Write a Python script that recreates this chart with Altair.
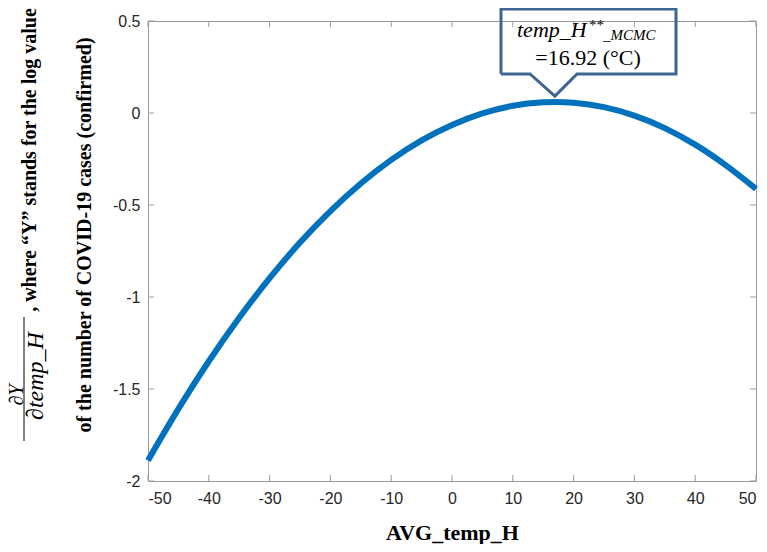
import altair as alt
import pandas as pd

# Curve values
avg_temp = [-50, -45, -40, -35, -30, -25, -20, -15, -10, -5, 0, 5, 10, 15, 16.92, 20, 25, 30, 35, 40, 45, 50]
dydt = [-1.888, -1.608, -1.349, -1.113, -0.898, -0.704, -0.533, -0.383, -0.255, -0.149, -0.065,
        -0.002, 0.039, 0.058, 0.060, 0.056, 0.032, -0.014, -0.082, -0.172, -0.283, -0.412]

x_ticks = [-50, -40, -30, -20, -10, 0, 10, 20, 30, 40, 50]
y_ticks = [-2, -1.5, -1, -0.5, 0, 0.5]

# Callout outline (data units), traced in order
call_x = [8.06, 8.06, 36.84, 36.84, 20.56, 16.92, 12.83, 8.06]
call_y = [0.212, 0.565, 0.565, 0.212, 0.212, 0.092, 0.212, 0.212]

W, H = 608, 460
FRAME = "#9a9a9a"
BLUE = "#0072BD"
BOX = "#3F6591"

xs = alt.Scale(domain=[-50, 50], nice=False, zero=False)
ys = alt.Scale(domain=[-2, 0.5], nice=False, zero=False)

curve_df = pd.DataFrame({"x": avg_temp, "y": dydt})
xt_df = pd.DataFrame({"x": x_ticks})
yt_df = pd.DataFrame({"y": y_ticks})
call_df = pd.DataFrame({"x": call_x, "y": call_y, "o": list(range(len(call_x)))})

curve = alt.Chart(curve_df).mark_line(color=BLUE, strokeWidth=6, strokeCap="butt",
                                      interpolate="monotone").encode(
    x=alt.X("x:Q", scale=xs,
            axis=alt.Axis(values=x_ticks, domain=False, ticks=False, grid=False,
                          labelFont="Liberation Sans", labelFontSize=16, labelColor="#262626",
                          labelPadding=9, labelExpr="'' + datum.value",
                          title="AVG_temp_H", titleFont="Liberation Serif", titleFontSize=22,
                          titleFontWeight="bold", titleColor="#000000", titlePadding=16)),
    y=alt.Y("y:Q", scale=ys,
            axis=alt.Axis(values=y_ticks, domain=False, ticks=False, grid=False,
                          labelFont="Liberation Sans", labelFontSize=16, labelColor="#262626",
                          labelPadding=8, labelExpr="'' + datum.value", title=" ")),
)

tick_bottom = alt.Chart(xt_df).mark_rule(color=FRAME, strokeWidth=1).encode(
    x=alt.X("x:Q", scale=xs), y=alt.value(H), y2=alt.value(H - 6))
tick_top = alt.Chart(xt_df).mark_rule(color=FRAME, strokeWidth=1).encode(
    x=alt.X("x:Q", scale=xs), y=alt.value(0), y2=alt.value(6))
tick_left = alt.Chart(yt_df).mark_rule(color=FRAME, strokeWidth=1).encode(
    y=alt.Y("y:Q", scale=ys), x=alt.value(0), x2=alt.value(6))
tick_right = alt.Chart(yt_df).mark_rule(color=FRAME, strokeWidth=1).encode(
    y=alt.Y("y:Q", scale=ys), x=alt.value(W), x2=alt.value(W - 6))

callout = alt.Chart(call_df).mark_line(color=BOX, strokeWidth=3, strokeJoin="miter").encode(
    x=alt.X("x:Q", scale=xs),
    y=alt.Y("y:Q", scale=ys),
    order="o:Q",
)

one = pd.DataFrame({"a": [0]})

def txt(text, x, y, size, style="normal", weight="normal", align="left", angle=0, baseline="alphabetic"):
    return alt.Chart(one).mark_text(
        text=text, font="Liberation Serif", fontSize=size, fontStyle=style, fontWeight=weight,
        align=align, baseline=baseline, angle=angle, color="#000000"
    ).encode(x=alt.value(x), y=alt.value(y))

t1 = txt("temp_H", 369, 16, 22, style="italic")
t2 = txt("**", 441, 9, 15)
t3 = txt("_MCMC", 455, 19, 15, style="italic")
t4 = txt("=16.92 (°C)", 440, 44, 22, align="center")

# rotated y title
yl1 = txt(", where “Y” stands for the log value", -118, 139, 20, weight="bold",
          align="center", angle=270, baseline="middle")
yl2 = txt("of the number of COVID-19 cases (confirmed)", -63, 214, 20, weight="bold",
          align="center", angle=270, baseline="middle")
num = txt("∂Y", -131, 374, 20, style="italic", align="center", angle=270, baseline="middle")
den = txt("∂temp_H", -112, 355, 24, style="italic", align="center", angle=270, baseline="middle")
bar = alt.Chart(one).mark_rule(color="#000000", strokeWidth=1).encode(
    x=alt.value(-124), y=alt.value(296), y2=alt.value(420))

chart = alt.layer(
    curve, tick_bottom, tick_top, tick_left, tick_right, callout,
    t1, t2, t3, t4, yl1, yl2, num, den, bar
).properties(
    width=W, height=H,
    autosize=alt.AutoSizeParams(type="none"),
    padding={"left": 140, "top": 13, "right": 3, "bottom": 63},
    background="#ffffff",
).configure_view(stroke=FRAME, strokeWidth=1)

chart.save("out.html", embed_options={"renderer": "svg", "actions": False})
